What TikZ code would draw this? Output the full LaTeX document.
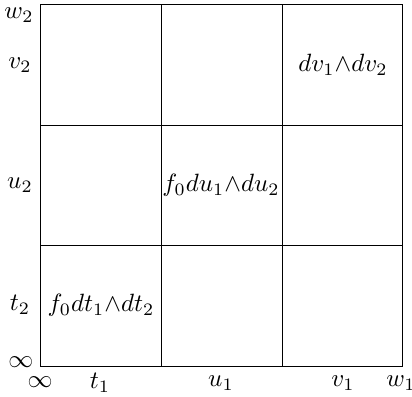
\documentclass[tikz,border=0pt]{standalone}
\usepackage{amsmath}

\tikzset{every picture/.style={line width=0.4pt}}
\tikzset{lbl/.style={inner sep=0.75pt}}

\begin{document}
\begin{tikzpicture}[x=0.4pt,y=0.4pt,yscale=-1,xscale=1]
\useasboundingbox (0,0) rectangle (412,396);

%Shape: Square
\draw (40,4) rectangle (402,366);
%Straight Lines
\draw (161,4) -- (161,366);
\draw (282,4) -- (282,366);
\draw (40,125) -- (402,125);
\draw (40,245) -- (402,245);

% Text Node
\node [lbl] (w2) at (19,15) {$w_2$};
\node [lbl] (v2) at (20,65) {$v_2$};
\node [lbl] (u2) at (20,185) {$u_2$};
\node [lbl] (t2) at (20,305) {$t_2$};
\node [lbl] (infl) at (21,362) {$\infty$};
% Text Node
\node [lbl] (infb) at (40,382) {$\infty$};
\node [lbl] (t1) at (100,383) {$t_1$};
\node [lbl] (u1) at (221,383) {$u_1$};
\node [lbl] (v1) at (343,383) {$v_1$};
\node [lbl] (w1) at (401,383) {$w_1$};
% Text Node
\node [lbl] (ft) at (101,305) {$f_0dt_1{\wedge}dt_2$};
\node [lbl] (fu) at (221,185) {$f_0du_1{\wedge}du_2$};
\node [lbl] (dv) at (343,65) {$dv_1{\wedge}dv_2$};

\end{tikzpicture}
\end{document}
